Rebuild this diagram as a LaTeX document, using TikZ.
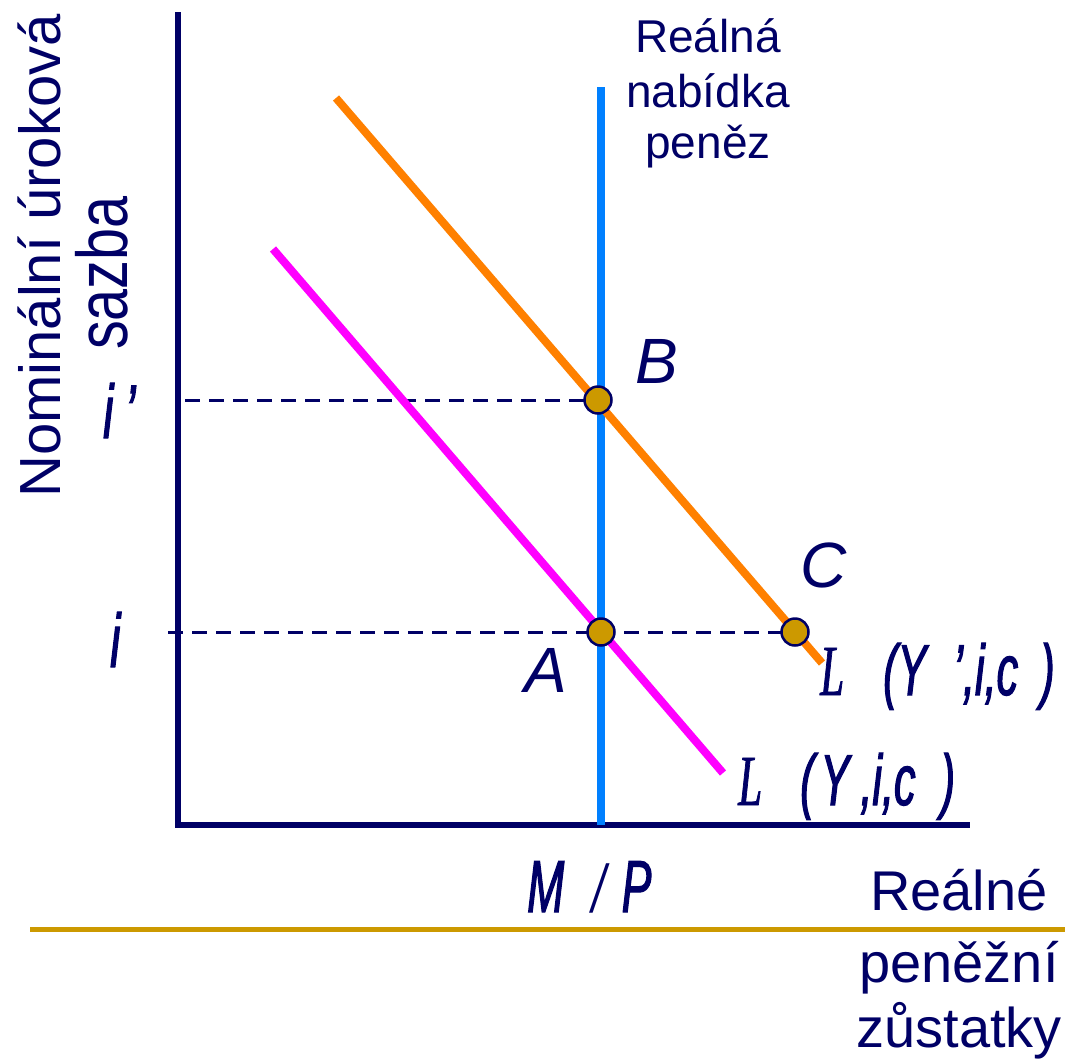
\documentclass[tikz,border=0pt]{standalone}
\usepackage{fontspec}
\setmainfont{Liberation Sans}
\newfontfamily\condsans[FakeStretch=0.6,FakeBold=1.5]{Liberation Sans}
\newfontfamily\condserif[FakeStretch=0.6,FakeBold=1]{Liberation Serif}
\newfontfamily\plainserif{Liberation Serif}
\newfontfamily\tallsans[FakeStretch=0.8]{Liberation Sans}
\definecolor{axisnavy}{HTML}{000066}
\definecolor{ptgold}{HTML}{CC9900}
\definecolor{supplyblue}{HTML}{0080FF}
\definecolor{demandorange}{HTML}{FF8000}
\definecolor{demandmagenta}{HTML}{FF00FF}
\begin{document}
\begin{tikzpicture}[x=1pt,y=-1pt,
  lbl/.style={text=axisnavy, inner sep=0pt, anchor=base west},
  ctr/.style={text=axisnavy, inner sep=0pt, anchor=base},
  axisline/.style={draw=axisnavy, line width=6pt},
  curve/.style={line width=8pt},
  eqpt/.style={circle, fill=ptgold, draw=axisnavy, line width=2.5pt, minimum size=27pt, inner sep=0pt},
  guide/.style={draw=axisnavy, line width=3pt, dash pattern=on 15pt off 9pt},
  big/.style={font=\fontsize{64}{64}\selectfont\itshape},
  cond/.style={font=\condsans\fontsize{72}{72}\selectfont\itshape}
]
\useasboundingbox (0,0) rectangle (1065,1058);

% coordinates
\coordinate (O) at (178,825);
\coordinate (ytop) at (178,12);
\coordinate (xend) at (970,825);
\coordinate (s0) at (601,825);
\coordinate (s1) at (601,87);
\coordinate (o0) at (336,98);
\coordinate (o1) at (822,663);
\coordinate (m0) at (273,249);
\coordinate (m1) at (723,773);
\coordinate (ip) at (185,400);
\coordinate (i0) at (168,632);
\coordinate (g0) at (30,929.5);
\coordinate (g1) at (1065,929.5);

% axes
\draw[axisline] (ytop) -- (O) -- (xend);

% gold separator
\draw[draw=ptgold, line width=5pt] (g0) -- (g1);

% equilibrium point positions
\path (598,400) coordinate (Bc) (601,632) coordinate (Ac) (795,632) coordinate (Cc);

% dashed guides
\draw[guide] (ip) -- (Bc);
\draw[guide] (i0) -- (Ac) -- (Cc);

% curves
\draw[curve, draw=demandmagenta] (m0) -- (m1);
\draw[curve, draw=supplyblue] (s0) -- (s1);
\draw[curve, draw=demandorange] (o0) -- (o1);

% points
\node[eqpt] (B) at (Bc) {};
\node[eqpt] (A) at (Ac) {};
\node[eqpt] (C) at (Cc) {};

% point labels
\node[lbl, big] (labB) at (635,383) {B};
\node[lbl, big] (labA) at (524,692) {A};
\node[lbl, big] (labC) at (800,587) {C};

% supply label
\node[ctr, font=\fontsize{46}{46}\selectfont] (sup1) at (708,52) {Reálná};
\node[ctr, font=\fontsize{46}{46}\selectfont] (sup2) at (708,107) {nabídka};
\node[ctr, font=\fontsize{46}{46}\selectfont] (sup3) at (708,158) {peněz};

% y axis title
\node[ctr, rotate=90, font=\fontsize{58}{58}\selectfont] (yt1) at (60,256) {Nominální úroková};
\node[ctr, rotate=90, font=\tallsans\fontsize{72}{72}\selectfont] (yt2) at (127,273) {sazba};

% x axis title
\node[ctr, font=\fontsize{56}{56}\selectfont] (xt1) at (959,910) {Reálné};
\node[ctr, font=\fontsize{56}{56}\selectfont] (xt2) at (959,982) {peněžní};
\node[ctr, font=\fontsize{56}{56}\selectfont] (xt3) at (959,1047) {zůstatky};

% interest rate labels
\node[lbl, font=\condsans\fontsize{76}{76}\selectfont\itshape] (iprime) at (103,438) {i\hspace{12pt}’};
\node[lbl, font=\condsans\fontsize{76}{76}\selectfont\itshape] (ilab) at (110,667) {i};

% money supply label
\node[lbl, font=\fontsize{74}{74}\selectfont] (mp) at (527,912)
  {{\condsans\itshape M}\hspace{25pt}{\plainserif /}\hspace{12pt}{\condsans\itshape P}};

% demand labels
\node[lbl, cond] (Lprime) at (820,695)
  {{\condserif\itshape L}\hspace{39pt}(Y\hspace{27pt}’,i,c\hspace{22pt})};
\node[lbl, cond] (Lbase) at (738,805)
  {{\condserif\itshape L}\hspace{38pt}(\hspace{6pt}Y\hspace{11pt},i,c\hspace{25pt})};
\end{tikzpicture}
\end{document}
